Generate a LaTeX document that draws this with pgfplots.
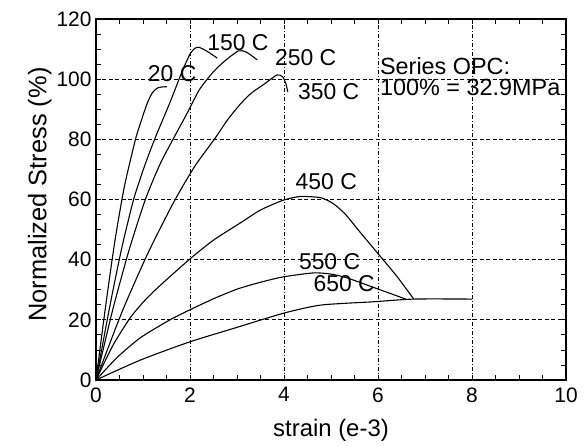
\documentclass[border=0pt]{standalone}
\usepackage{fontspec}
\setmainfont{Liberation Sans}
\usepackage{pgfplots}
\pgfplotsset{compat=1.18}
\begin{document}
\begin{tikzpicture}
\begin{axis}[
  scale only axis,
  width=470bp, height=361bp,
  xmin=0, xmax=10, ymin=0, ymax=120,
  xtick={0,2,...,10}, ytick={0,20,...,120},
  minor x tick num=3, minor y tick num=3,
  tick align=inside,
  major tick length=5bp, minor tick length=5bp,
  tick style={black, line width=0.8pt},
  axis line style={line width=1.1pt},
  /pgf/number format/assume math mode=true,
  ticklabel style={font=\fontsize{21}{24}\selectfont},
  xlabel={strain (e-3)},
  ylabel={Normalized Stress (\%)},
  xlabel style={font=\fontsize{24}{27}\selectfont, yshift=-10bp},
  ylabel style={font=\fontsize{25.5}{28}\selectfont, yshift=-2bp, xshift=5bp},
  xticklabel style={yshift=-4bp},
  yticklabel style={xshift=-1bp},
  clip=false,
]
% grid lines
\pgfplotsinvokeforeach{2,4,6,8}{
  \draw[black, line width=0.8pt, dash pattern=on 4bp off 2bp on 1bp off 2bp] (axis cs:#1,0) -- (axis cs:#1,120);
}
\pgfplotsinvokeforeach{20,40,60,80,100}{
  \draw[black, line width=0.8pt, dash pattern=on 4bp off 2.5bp] (axis cs:0,#1) -- (axis cs:10,#1);
}
\addplot[black, line width=1.1pt, smooth, tension=0.4] coordinates {
(0,0) (0.2,24) (0.4,46) (0.6,64) (0.84,80) (0.97,86.5) (1.09,92) (1.2,95.5) (1.3,97) (1.4,97.4) (1.51,97.5)};
\addplot[black, line width=1.1pt, smooth, tension=0.4] coordinates {
(0,0) (0.3,25) (0.55,44) (0.8,60) (1.03,71) (1.26,80.5) (1.58,92.5) (1.76,99.7) (1.87,104) (2.01,108.6) (2.1,110.2) (2.19,110.6) (2.37,109.2) (2.58,107)};
\addplot[black, line width=1.1pt, smooth, tension=0.4] coordinates {
(0,0) (0.35,23) (0.7,43) (1.05,60) (1.37,72) (1.69,81.5) (1.95,89) (2.2,96.5) (2.5,102.5) (2.76,106.3) (3.03,109.4) (3.2,109) (3.43,106.4)};
\addplot[black, line width=1.1pt, smooth, tension=0.4] coordinates {
(0,0) (0.55,22.5) (1.1,42) (1.65,59) (2.1,71) (2.54,80.5) (2.8,86.5) (3.07,91.7) (3.3,95.3) (3.6,98.6) (3.85,101.4) (3.97,100.8) (4.04,98.5) (4.08,95.8)};
\addplot[black, line width=1.1pt, smooth, tension=0.4] coordinates {
(0,0) (0.36,11.5) (0.72,20.5) (1.0,25.8) (1.3,30.5) (1.98,40) (2.5,46.5) (3.07,52.2) (3.5,56.5) (3.99,59.8) (4.35,61) (4.78,60.6) (5.05,58.6) (5.3,55.2) (5.6,49.5) (5.99,42.2) (6.4,34.5) (6.76,26.9)};
\addplot[black, line width=1.1pt, smooth, tension=0.4] coordinates {
(0,0) (0.45,7.5) (0.94,14) (1.55,19.8) (1.98,23.2) (2.5,27) (3.0,30.2) (3.5,32.5) (3.99,34.3) (4.63,35.6) (5.0,35.2) (5.35,33.9) (6.06,29.9) (6.59,26.9)};
\addplot[black, line width=1.1pt, smooth, tension=0.4] coordinates {
(0,0) (0.94,6.6) (1.98,12.6) (3,17.5) (3.99,22.2) (4.78,24.9) (5.9,26) (6.76,26.9) (8,26.9)};
% labels
\begin{scope}[every node/.style={font=\fontsize{23}{26}\selectfont, inner sep=0pt}]
\node at (axis cs:1.62,102) {20 C};
\node at (axis cs:3.02,112.2) {150 C};
\node at (axis cs:4.46,107.2) {250 C};
\node at (axis cs:4.95,95.9) {350 C};
\node at (axis cs:4.9,66) {450 C};
\node at (axis cs:4.97,39.2) {550 C};
\node at (axis cs:5.28,32) {650 C};
\node[anchor=west, font=\fontsize{23.5}{26}\selectfont] at (axis cs:6.04,104.2) {Series OPC:};
\node[anchor=west, font=\fontsize{23.5}{26}\selectfont] at (axis cs:6.04,97.1) {100\% = 32.9MPa};
\end{scope}
\end{axis}
\pgfresetboundingbox
\useasboundingbox ([xshift=-96bp,yshift=-67bp]current axis.south west) rectangle ([xshift=19bp,yshift=19bp]current axis.north east);
\end{tikzpicture}
\end{document}
